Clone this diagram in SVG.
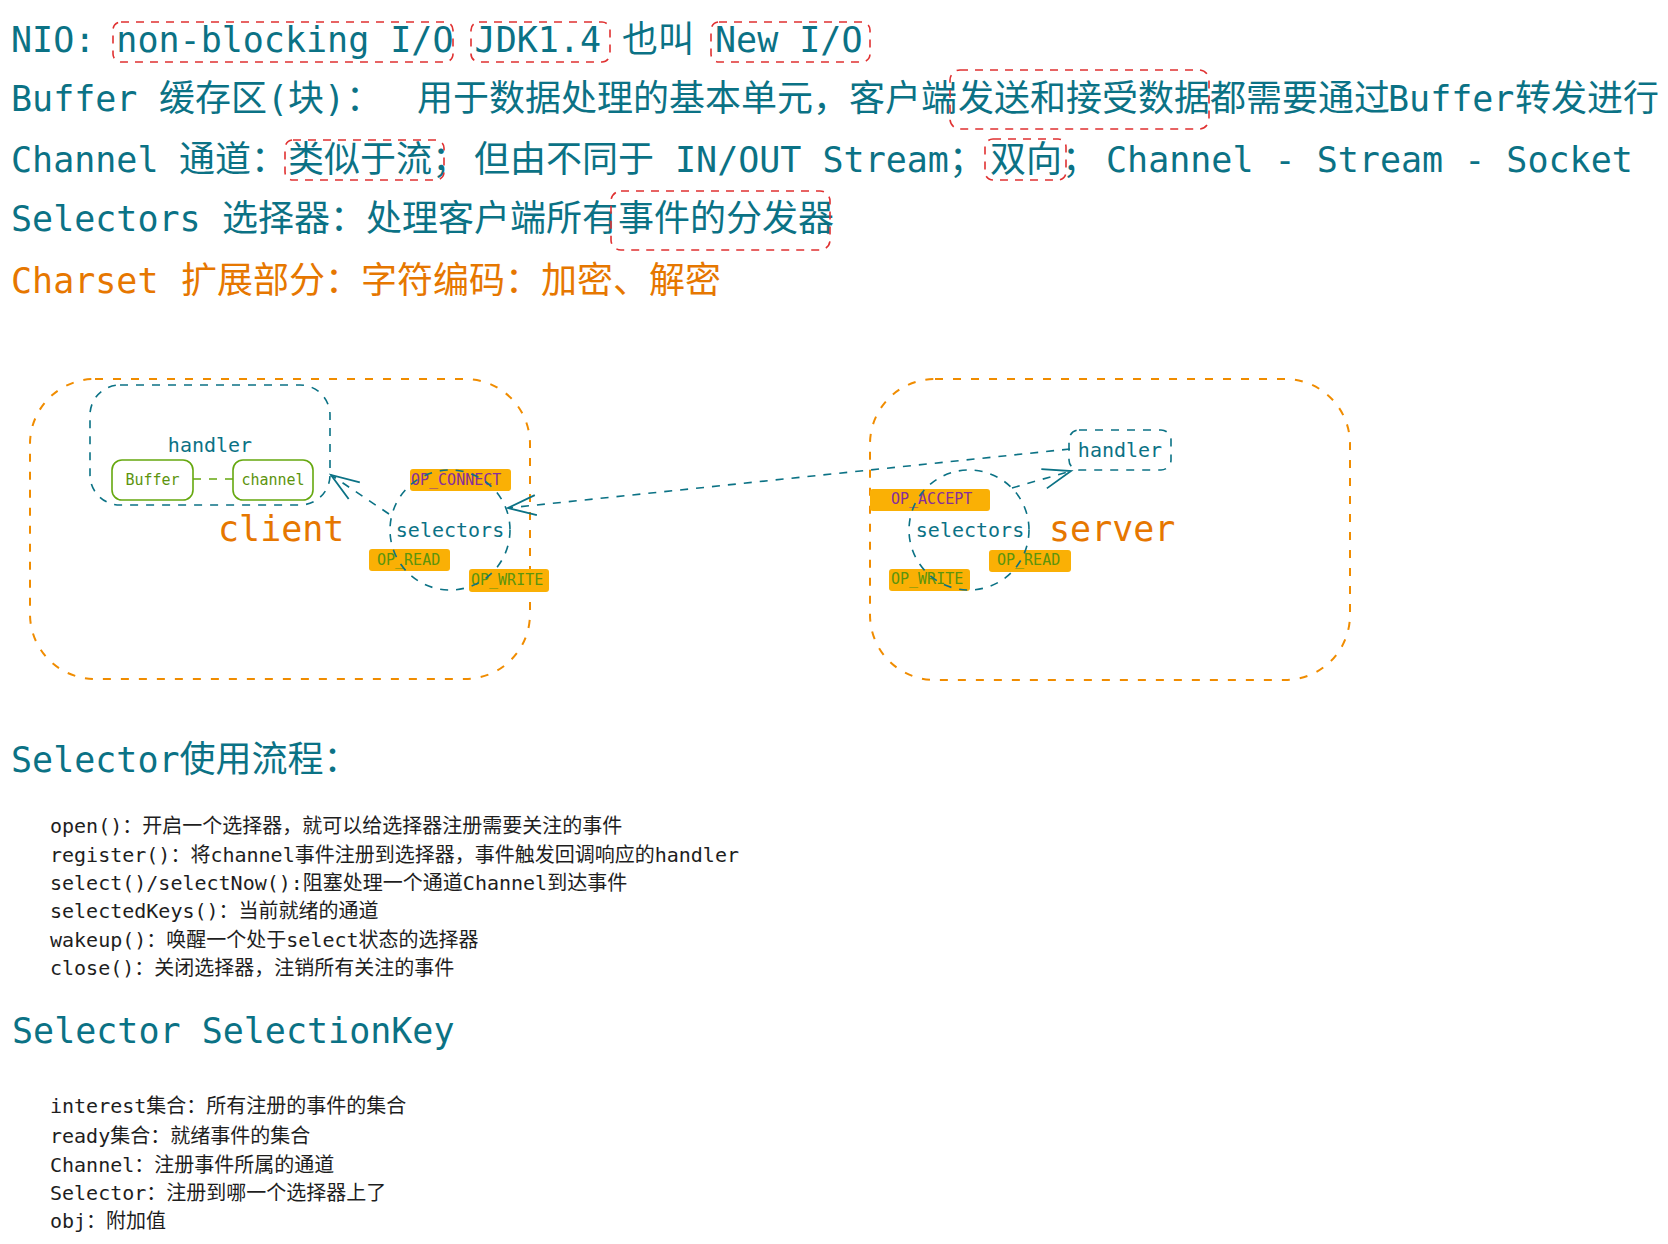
<svg xmlns="http://www.w3.org/2000/svg" width="1668" height="1244" viewBox="0 0 1668 1244">
<style>
.t{font-family:"DejaVu Sans Mono","Noto Sans CJK SC",monospace;font-size:35px;fill:#0b7285}
.c{font-size:36px}
.or{fill:#e67700}
.li{font-family:"DejaVu Sans Mono","Noto Sans CJK SC",monospace;font-size:20px;fill:#1e1e1e}
.hl{fill:none;stroke:#e03131;stroke-width:1.6;stroke-dasharray:8 7}
.cont{fill:none;stroke:#f08c00;stroke-width:2;stroke-dasharray:8 10}
.tb{fill:none;stroke:#0b7285;stroke-width:1.6;stroke-dasharray:8 8}
.gb{fill:none;stroke:#66a80f;stroke-width:1.6}
.lbl{font-family:"DejaVu Sans Mono",monospace;font-size:20px;fill:#0b7285}
.sm{font-family:"DejaVu Sans Mono",monospace;font-size:15px}
.big{font-family:"DejaVu Sans Mono",monospace;font-size:35px;fill:#e67700}
.yb{fill:#fab005}
.pu{fill:#862e9c}
.gr{fill:#5c940d}
.con{fill:none;stroke:#0b7285;stroke-width:1.6;stroke-dasharray:8 8}
</style>
<defs>
<marker id="arr" markerUnits="userSpaceOnUse" markerWidth="40" markerHeight="30" refX="30" refY="12" orient="auto" overflow="visible">
<path d="M2 2 L30 12 L2 22" fill="none" stroke="#0b7285" stroke-width="1.8"/>
</marker>
</defs>
<rect width="1668" height="1244" fill="#ffffff"/>

<g id="intro-text">
<text class="t" y="52"><tspan x="11">NIO: non-blocking I/O JDK1.4</tspan><tspan class="c" x="622">也叫</tspan><tspan x="715">New I/O</tspan></text>
<text class="t" y="111"><tspan x="11">Buffer</tspan><tspan class="c" x="159">缓存区</tspan><tspan>(</tspan><tspan class="c">块</tspan><tspan>)</tspan><tspan class="c" x="346">：</tspan><tspan class="c" x="417">用于数据处理的基本单元，客户端</tspan><tspan class="c" x="958">发送和接受数据都需要通过</tspan><tspan x="1388">Buffer</tspan><tspan class="c" x="1515">转发进行</tspan></text>
<text class="t" y="172"><tspan x="11">Channel</tspan><tspan class="c" x="179">通道：</tspan><tspan class="c" x="288">类似于流；</tspan><tspan class="c" x="474">但由不同于</tspan><tspan x="675">IN/OUT Stream</tspan><tspan class="c">；</tspan><tspan class="c" x="990">双向；</tspan><tspan x="1106">Channel - Stream - Socket</tspan></text>
<text class="t" y="231"><tspan x="11">Selectors</tspan><tspan class="c" x="222">选择器：处理客户端所有事件的分发器</tspan></text>
<text class="t or" y="293"><tspan x="11">Charset</tspan><tspan class="c" x="181">扩展部分：字符编码：加密、解密</tspan></text>
</g>

<g id="highlights">
<rect id="hl-nonblocking" class="hl" x="113" y="22" width="340" height="40" rx="8"/>
<rect id="hl-jdk" class="hl" x="471" y="22" width="139" height="40" rx="8"/>
<rect id="hl-newio" class="hl" x="711" y="22" width="159" height="40" rx="8"/>
<rect id="hl-send" class="hl" x="950" y="70" width="259" height="59" rx="10"/>
<rect id="hl-stream" class="hl" x="285" y="140" width="159" height="40" rx="8"/>
<rect id="hl-bidir" class="hl" x="985" y="139" width="81" height="41" rx="8"/>
<rect id="hl-dispatch" class="hl" x="611" y="191" width="219" height="59" rx="10"/>
</g>

<g id="client">
<rect class="cont" x="30" y="379" width="500" height="300" rx="65"/>
<text class="big" x="218" y="541">client</text>
</g>
<g id="client-handler">
<rect class="tb" x="90" y="385" width="240" height="120" rx="30"/>
<text class="lbl" x="210" y="452" text-anchor="middle">handler</text>
</g>
<g id="client-buffer">
<rect class="gb" x="112" y="460" width="81" height="40" rx="10"/>
<text class="sm gr" x="152.5" y="485" text-anchor="middle">Buffer</text>
</g>
<g id="client-channel">
<rect class="gb" x="233" y="460" width="80" height="40" rx="10"/>
<text class="sm gr" x="273" y="485" text-anchor="middle">channel</text>
</g>

<g id="server">
<rect class="cont" x="870" y="379" width="480" height="301" rx="65"/>
<text class="big" x="1049" y="541">server</text>
</g>
<g id="server-handler">
<rect class="tb" x="1069" y="430" width="102" height="40" rx="10"/>
<text class="lbl" x="1120" y="457" text-anchor="middle">handler</text>
</g>

<g id="label-op-connect">
<rect class="yb" x="410" y="469" width="101" height="22" rx="3"/>
<text class="sm pu" x="411" y="485">OP_CONNECT</text>
</g>
<g id="label-op-read-client">
<rect class="yb" x="369" y="549" width="81" height="22" rx="3"/>
<text class="sm gr" x="377" y="565">OP_READ</text>
</g>
<g id="label-op-write-client">
<rect class="yb" x="469" y="569" width="80" height="23" rx="3"/>
<text class="sm gr" x="471" y="585">OP_WRITE</text>
</g>
<g id="label-op-accept">
<rect class="yb" x="870" y="489" width="120" height="22" rx="3"/>
<text class="sm pu" x="891" y="504">OP_ACCEPT</text>
</g>
<g id="label-op-read-server">
<rect class="yb" x="989" y="550" width="82" height="22" rx="3"/>
<text class="sm gr" x="997" y="565">OP_READ</text>
</g>
<g id="label-op-write-server">
<rect class="yb" x="889" y="569" width="81" height="22" rx="3"/>
<text class="sm gr" x="891" y="584">OP_WRITE</text>
</g>

<g id="client-selectors">
<circle class="tb" cx="450" cy="530" r="60"/>
<text class="lbl" x="450" y="537" text-anchor="middle">selectors</text>
</g>
<g id="server-selectors">
<circle class="tb" cx="969" cy="530" r="60"/>
<text class="lbl" x="970" y="537" text-anchor="middle">selectors</text>
</g>

<g id="connectors">
<line x1="193" y1="479" x2="233" y2="479" fill="none" stroke="#66a80f" stroke-width="1.6" stroke-dasharray="8 8"/>
<line class="con" x1="389" y1="514" x2="331" y2="475" marker-end="url(#arr)"/>
<line class="con" x1="1070" y1="449" x2="508" y2="508" marker-end="url(#arr)"/>
<line class="con" x1="1012" y1="488" x2="1071" y2="471" marker-end="url(#arr)"/>
</g>

<g id="selector-usage">
<text class="t" y="772"><tspan x="11">Selector</tspan><tspan class="c">使用流程：</tspan></text>
<text class="li" x="50" y="833">open()：开启一个选择器，就可以给选择器注册需要关注的事件</text>
<text class="li" x="50" y="862">register()：将channel事件注册到选择器，事件触发回调响应的handler</text>
<text class="li" x="50" y="890">select()/selectNow():阻塞处理一个通道Channel到达事件</text>
<text class="li" x="50" y="918">selectedKeys()：当前就绪的通道</text>
<text class="li" x="50" y="947">wakeup()：唤醒一个处于select状态的选择器</text>
<text class="li" x="50" y="975">close()：关闭选择器，注销所有关注的事件</text>
</g>

<g id="selection-key">
<text class="t" x="12" y="1043">Selector SelectionKey</text>
<text class="li" x="50" y="1113">interest集合：所有注册的事件的集合</text>
<text class="li" x="50" y="1143">ready集合：就绪事件的集合</text>
<text class="li" x="50" y="1172">Channel：注册事件所属的通道</text>
<text class="li" x="50" y="1200">Selector：注册到哪一个选择器上了</text>
<text class="li" x="50" y="1228">obj：附加值</text>
</g>
</svg>
